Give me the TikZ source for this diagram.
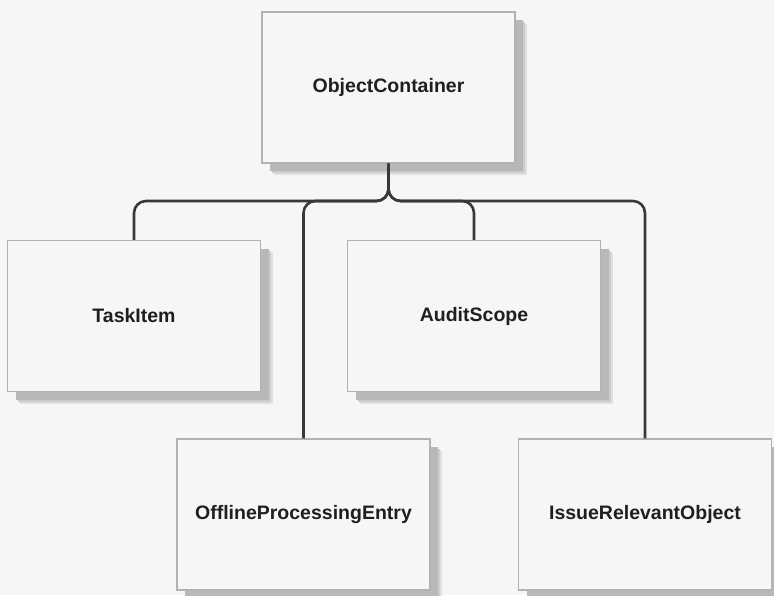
\documentclass[tikz,border=0pt]{standalone}
\usepackage{fontspec}
\setmainfont{Liberation Sans}
\begin{document}
\begin{tikzpicture}[x=1pt,y=-1pt,
  boxnode/.style={draw=black!30, line width=1.3pt, fill=bgcol, minimum width=253pt, minimum height=151pt,
    inner sep=0pt, font=\fontsize{19.5}{23}\selectfont\bfseries, text=black!88},
  conn/.style={draw=black!78, line width=2.6pt, rounded corners=12pt}]
\definecolor{bgcol}{HTML}{F6F6F6}
\fill[bgcol] (0,0) rectangle (774,595);
\useasboundingbox (0,0) rectangle (774,595);
% shadows
\foreach \cx/\cy in {388.5/87.5, 134/316, 474/316, 303.5/514.5, 645/514.5}{
  \fill[black!12] (\cx-126.5+12,\cy-75.5+12) rectangle (\cx+126.5+12,\cy+75.5+12);
  \fill[black!20] (\cx-126.5+10,\cy-75.5+10) rectangle (\cx+126.5+10,\cy+75.5+10);
  \fill[black!28] (\cx-126.5+8,\cy-75.5+8) rectangle (\cx+126.5+8,\cy+75.5+8);
}
\node[boxnode] (oc) at (388.5,87.5) {ObjectContainer};
\node[boxnode] (ti) at (134,316) {TaskItem};
\node[boxnode] (as) at (474,316) {AuditScope};
\node[boxnode] (op) at (303.5,514.5) {OfflineProcessingEntry};
\node[boxnode] (ir) at (645,514.5) {IssueRelevantObject};
\coordinate (bus) at (388.5,201);
\draw[conn] (oc.south) -- (bus) -| (ti.north);
\draw[conn] (oc.south) -- (bus) -| (op.north);
\draw[conn] (oc.south) -- (bus) -| (as.north);
\draw[conn] (oc.south) -- (bus) -| (ir.north);
\end{tikzpicture}
\end{document}
